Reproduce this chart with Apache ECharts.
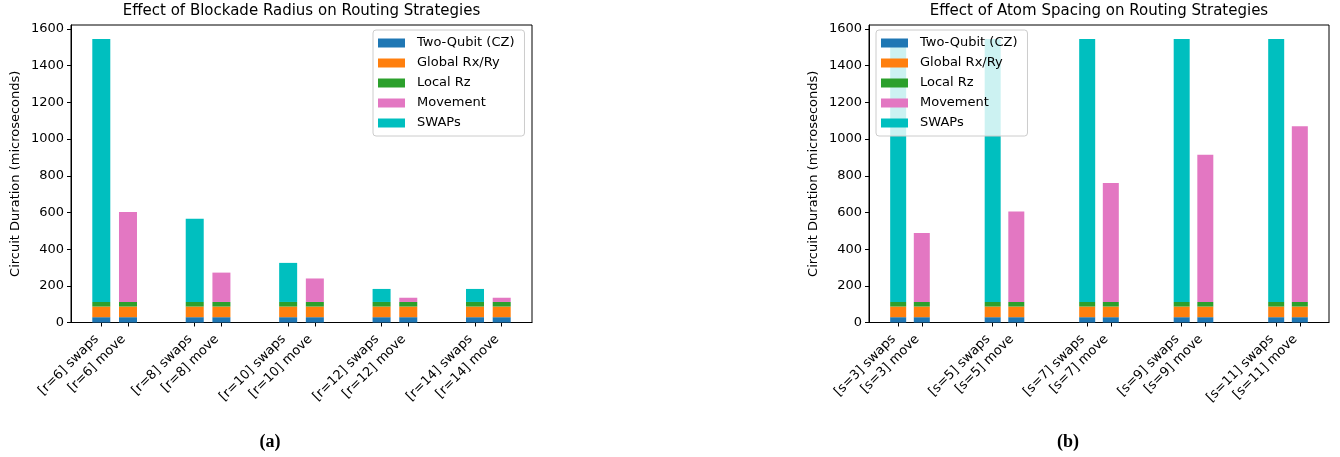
<!DOCTYPE html>
<html>
<head>
<meta charset="utf-8">
<script src="https://cdn.jsdelivr.net/npm/echarts@6/dist/echarts.min.js"></script>
<style>
  html, body { margin: 0; padding: 0; background: #ffffff; }
  #chart { width: 1340px; height: 457px; }
</style>
</head>
<body>
<div id="chart"></div>
<script>
// Stage names, shared by both panels (bottom to top of each stacked bar)
const stageNames = ['Two-Qubit (CZ)', 'Global Rx/Ry', 'Local Rz', 'Movement', 'SWAPs'];

// Panel (a): blockade radius sweep
const radiusGroups = ['r=6', 'r=8', 'r=10', 'r=12', 'r=14'];
const radiusCz = [29, 29, 29, 29, 29];
const radiusGlobal = [58, 58, 58, 58, 58];
const radiusLocal = [25, 25, 25, 25, 25];
const radiusSwapTime = [1433, 453, 213, 71, 71];   // SWAP routing overhead
const radiusMoveTime = [491, 160, 128, 23, 23];    // atom movement overhead

// Panel (b): atom spacing sweep
const spacingGroups = ['s=3', 's=5', 's=7', 's=9', 's=11'];
const spacingCz = [29, 29, 29, 29, 29];
const spacingGlobal = [58, 58, 58, 58, 58];
const spacingLocal = [25, 25, 25, 25, 25];
const spacingSwapTime = [1433, 1433, 1433, 1433, 1433];
const spacingMoveTime = [376, 493, 648, 803, 958];

const yTicks = [0, 200, 400, 600, 800, 1000, 1200, 1400, 1600];
const stageColors = ['#1f77b4', '#ff7f0e', '#2ca02c', '#e377c2', '#00bfbf'];

const FONT = 'DejaVu Sans';

// Build one panel: two stacked bars per group ("swaps" then "move").
// Each stage becomes a custom series whose items carry [x, bottom, top].
function buildPanel(idx, groups, cz, glob, loc, swapT, moveT, groupStep, barW) {
  const pos = [], names = {};
  const cols = [[], [], [], [], []];
  const addBar = (x, parts) => {
    let base = 0;
    parts.forEach((v, k) => { cols[k].push([x, base, base + v]); base += v; });
  };
  groups.forEach((g, i) => {
    const xs = i * groupStep, xm = i * groupStep + 1;
    pos.push(xs, xm);
    names[xs] = '[' + g + '] swaps';
    names[xm] = '[' + g + '] move';
    addBar(xs, [cz[i], glob[i], loc[i], 0, swapT[i]]);
    addBar(xm, [cz[i], glob[i], loc[i], moveT[i], 0]);
  });
  const span = pos[pos.length - 1] - pos[0] + 0.7;
  const pad = 0.35 + 0.05 * span;
  const xAxis = {
    type: 'value', gridIndex: idx,
    min: pos[0] - pad, max: pos[pos.length - 1] + pad,
    axisLine: { show: true, onZero: false, lineStyle: { color: '#000', width: 1 } },
    axisTick: { show: true, customValues: pos, length: 4, lineStyle: { color: '#000' } },
    axisLabel: {
      customValues: pos, rotate: 45, margin: 10, padding: [0, 6.5, 0, 0],
      fontFamily: FONT, fontSize: 13, color: '#000',
      formatter: v => names[v] || ''
    },
    splitLine: { show: false }
  };
  const yAxis = {
    type: 'value', gridIndex: idx, min: 0, max: 1622,
    name: 'Circuit Duration (microseconds)', nameLocation: 'middle', nameGap: 49,
    nameTextStyle: { fontFamily: FONT, fontSize: 13, color: '#000' },
    axisLine: { show: true, onZero: false, lineStyle: { color: '#000', width: 1 } },
    axisTick: { show: true, customValues: yTicks, length: 4, lineStyle: { color: '#000' } },
    axisLabel: { customValues: yTicks, margin: 7, fontFamily: FONT, fontSize: 13, color: '#000', formatter: v => String(v) },
    splitLine: { show: false }
  };
  const series = stageNames.map((n, k) => ({
    type: 'custom', name: n, xAxisIndex: idx, yAxisIndex: idx,
    itemStyle: { color: stageColors[k] },
    encode: { x: 0, y: [1, 2] },
    renderItem: (params, api) => {
      const x = api.value(0), y0 = api.value(1), y1 = api.value(2);
      if (y1 <= y0) return null;
      const p0 = api.coord([x, y0]);
      const p1 = api.coord([x, y1]);
      return {
        type: 'rect',
        shape: { x: p0[0] - barW / 2, y: p1[1], width: barW, height: p0[1] - p1[1] },
        style: { fill: stageColors[k] }
      };
    },
    data: cols[k]
  }));
  return { xAxis, yAxis, series };
}

const pA = buildPanel(0, radiusGroups, radiusCz, radiusGlobal, radiusLocal, radiusSwapTime, radiusMoveTime, 3.5, 18);
const pB = buildPanel(1, spacingGroups, spacingCz, spacingGlobal, spacingLocal, spacingSwapTime, spacingMoveTime, 4, 16);

function legendAt(left) {
  return {
    orient: 'vertical', left: left, top: 30,
    icon: 'rect', itemWidth: 27, itemHeight: 9, itemGap: 6,
    padding: [6, 10, 6, 5],
    backgroundColor: 'rgba(255,255,255,0.8)',
    borderColor: '#cccccc', borderWidth: 1, borderRadius: 3,
    textStyle: { fontFamily: FONT, fontSize: 13, color: '#000', lineHeight: 14, padding: [0, 0, 0, 7] },
    data: stageNames, selectedMode: false
  };
}

const chart = echarts.init(document.getElementById('chart'), null, { renderer: 'canvas' });
chart.setOption({
  animation: false,
  backgroundColor: '#ffffff',
  grid: [
    { left: 71, top: 25, width: 461, height: 297.5, show: true, borderColor: '#000', borderWidth: 1, containLabel: false },
    { left: 869, top: 25, width: 460, height: 297.5, show: true, borderColor: '#000', borderWidth: 1, containLabel: false }
  ],
  xAxis: [pA.xAxis, pB.xAxis],
  yAxis: [pA.yAxis, pB.yAxis],
  legend: [legendAt(373), legendAt(876)],
  series: pA.series.concat(pB.series),
  graphic: [
    { type: 'text', x: 301.5, y: 11, style: { text: 'Effect of Blockade Radius on Routing Strategies', font: '15px "DejaVu Sans"', fill: '#000', align: 'center', verticalAlign: 'middle' } },
    { type: 'text', x: 1099, y: 11, style: { text: 'Effect of Atom Spacing on Routing Strategies', font: '15px "DejaVu Sans"', fill: '#000', align: 'center', verticalAlign: 'middle' } },
    { type: 'text', x: 270, y: 442, style: { text: '(a)', font: 'bold 18px "Liberation Serif"', fill: '#000', align: 'center', verticalAlign: 'middle' } },
    { type: 'text', x: 1068, y: 442, style: { text: '(b)', font: 'bold 18px "Liberation Serif"', fill: '#000', align: 'center', verticalAlign: 'middle' } }
  ]
});
</script>
</body>
</html>
